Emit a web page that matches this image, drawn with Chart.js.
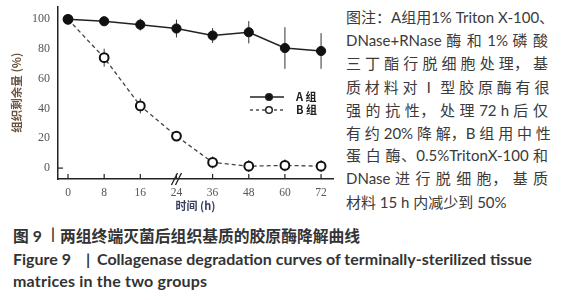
<!DOCTYPE html>
<html>
<head>
<meta charset="utf-8">
<script src="https://cdn.jsdelivr.net/npm/chart.js@4/dist/chart.umd.min.js"></script>
<style>
body{margin:0;width:566px;height:300px;background:#fff;position:relative;overflow:hidden;font-family:"Lato","Noto Sans CJK SC",sans-serif;color:#333}
#wrap{position:absolute;left:0;top:0;width:340px;height:215px}
.note{position:absolute;left:346px;width:202px;font-size:15px;line-height:18px;text-align:justify;text-align-last:justify;white-space:nowrap;color:#3a3a3a}
.cap{position:absolute;font-weight:bold;font-size:16px;white-space:nowrap;color:#333}
</style>
</head>
<body>
<div id="wrap"><canvas id="chartDeg" width="340" height="215"></canvas></div>

<div class="note" style="top:8px">图注：A组用1% Triton X-100、</div>
<div class="note" style="top:31px">DNase+RNase 酶 和 1% 磷 酸</div>
<div class="note" style="top:54px">三 丁 酯 行 脱 细 胞 处 理， 基</div>
<div class="note" style="top:78px">质 材 料 对 Ⅰ 型 胶 原 酶 有 很</div>
<div class="note" style="top:101px">强 的 抗 性， 处 理 72 h 后 仅</div>
<div class="note" style="top:124px">有 约 20% 降 解，B 组 用 中 性</div>
<div class="note" style="top:146px">蛋 白 酶、0.5%TritonX-100 和</div>
<div class="note" style="top:169px">DNase 进 行 脱 细 胞， 基 质</div>
<div class="note" style="top:193px;text-align-last:left">材料 15 h 内减少到 50%</div>

<div class="cap" style="left:13px;top:224px;font-size:15.8px">图 9</div>
<div class="cap" style="left:51px;top:224px;font-size:15px">|</div>
<div class="cap" style="left:60px;top:224px;font-size:15.8px">两组终端灭菌后组织基质的胶原酶降解曲线</div>
<div class="cap" style="left:13px;top:249px">Figure 9</div>
<div class="cap" style="left:86px;top:249px">|</div>
<div class="cap" style="left:97px;top:249px">Collagenase degradation curves of terminally-sterilized tissue</div>
<div class="cap" style="left:13px;top:271px;letter-spacing:0.2px">matrices in the two groups</div>

<script>
const hours = ['0','8','16','24','36','48','60','72']
const groupA = [100, 98.7, 96.4, 93.8, 89.1, 91.3, 80.7, 78.7]
const errA = [1, 3, 4, 6, 5, 7.5, 14, 12]
const groupB = [100, 74.2, 41.8, 21.5, 3.8, 1.3, 1.8, 1.3]
const errB = [1, 6, 5, 3, 4, 4, 4, 4]
const yTicks = [0, 20, 40, 60, 80, 100]
const seriesNames = ['A 组', 'B 组']
const errs = [errA, errB]

// error bars, inner ticks, axis break, legend
const extrasPlugin = {
  id: 'extras',
  beforeDatasetsDraw(chart) {
    const ctx = chart.ctx, xs = chart.scales.x, ys = chart.scales.y
    ctx.save()
    ctx.strokeStyle = '#333'
    ctx.lineWidth = 1
    chart.data.datasets.forEach((ds, d) => {
      ds.data.forEach((p, i) => {
        const x = xs.getPixelForValue(p.x)
        ctx.beginPath()
        ctx.moveTo(x, ys.getPixelForValue(p.y + errs[d][i]))
        ctx.lineTo(x, ys.getPixelForValue(p.y - errs[d][i]))
        ctx.stroke()
      })
    })
    ctx.restore()
  },
  afterDraw(chart) {
    const ctx = chart.ctx, xs = chart.scales.x, ys = chart.scales.y
    const area = chart.chartArea
    ctx.save()
    ctx.strokeStyle = '#222'
    ctx.lineWidth = 1.2
    hours.forEach((h, i) => {
      const x = xs.getPixelForValue(i)
      ctx.beginPath(); ctx.moveTo(x, area.bottom); ctx.lineTo(x, area.bottom - 5); ctx.stroke()
    })
    const y0 = ys.getPixelForValue(0)
    ctx.beginPath(); ctx.moveTo(area.left, y0); ctx.lineTo(area.left + 5, y0); ctx.stroke()
    // axis break at 24
    const bx = xs.getPixelForValue(3)
    ctx.lineWidth = 1.3
    for (const dx of [-2, 2]) {
      ctx.beginPath(); ctx.moveTo(bx + dx - 3, area.bottom + 6); ctx.lineTo(bx + dx + 3, area.bottom - 6); ctx.stroke()
    }
    // legend
    const lx = 250, ly = [97, 110]
    ctx.font = 'bold 11px "Noto Sans CJK SC", sans-serif'
    ctx.textBaseline = 'middle'
    ctx.fillStyle = '#222'
    ly.forEach((y, k) => {
      ctx.strokeStyle = '#222'
      ctx.lineWidth = k ? 1.2 : 1.5
      ctx.setLineDash(k ? [3, 3] : [])
      ctx.beginPath(); ctx.moveTo(lx, y); ctx.lineTo(lx + 34, y); ctx.stroke()
      ctx.setLineDash([])
      ctx.beginPath(); ctx.arc(lx + 19, y, 3.3, 0, Math.PI * 2)
      ctx.fillStyle = k ? '#fff' : '#111'
      ctx.fill()
      ctx.lineWidth = 1.5
      ctx.stroke()
      ctx.fillStyle = '#222'
      ctx.fillText(seriesNames[k], lx + 46, y)
    })
    ctx.restore()
  }
}

function LoadDegradation(){
  chartDeg = new Chart(document.getElementById('chartDeg'), {
    type: 'line',
    data: {
      datasets: [
        {
          data: groupA.map((v, i) => ({x: i, y: v})),
          borderColor: '#222', borderWidth: 1.5,
          pointRadius: 4.6, pointBackgroundColor: '#111', pointBorderColor: '#111', pointBorderWidth: 1
        },
        {
          data: groupB.map((v, i) => ({x: i, y: v})),
          borderColor: '#444', borderWidth: 1.3, borderDash: [4, 3],
          pointRadius: 4.4, pointBackgroundColor: '#fff', pointBorderColor: '#111', pointBorderWidth: 2
        }
      ]
    },
    options: {
      responsive: false,
      animation: false,
      layout: {padding: {top: 5, right: 7, left: 0, bottom: 0}},
      plugins: {legend: {display: false}, tooltip: {enabled: false}},
      scales: {
        x: {
          type: 'linear', min: -0.277, max: 7.33,
          afterBuildTicks: s => { s.ticks = hours.map((h, i) => ({value: i})) },
          afterFit: s => { s.height = 36; s.paddingLeft = 0; s.paddingRight = 0 },
          grid: {display: false, drawTicks: false},
          border: {color: '#222', width: 1.5},
          ticks: {padding: 7, color: '#555', font: {family: 'Liberation Serif', size: 11.5}, callback: v => hours[v], maxRotation: 0},
          title: {display: true, text: '时间 (h)', color: '#3a4060', padding: {top: 2, bottom: 3}, font: {family: 'Noto Sans CJK SC', size: 11, weight: 'bold'}}
        },
        y: {
          min: -7.33, max: 108.67,
          afterBuildTicks: s => { s.ticks = yTicks.map(v => ({value: v})) },
          afterFit: s => { s.width = 58; s.paddingTop = 0; s.paddingBottom = 0 },
          grid: {display: false, drawTicks: false},
          border: {color: '#222', width: 1.5},
          ticks: {padding: 8, color: '#555', font: {family: 'Liberation Serif', size: 12}},
          title: {display: true, text: '组织剩余量 (%)', color: '#6a5540', padding: {top: 10, bottom: 0}, font: {family: 'Noto Sans CJK SC', size: 11.5, weight: 'bold'}}
        }
      }
    },
    plugins: [extrasPlugin]
  })
}
LoadDegradation()
</script>
</body>
</html>
